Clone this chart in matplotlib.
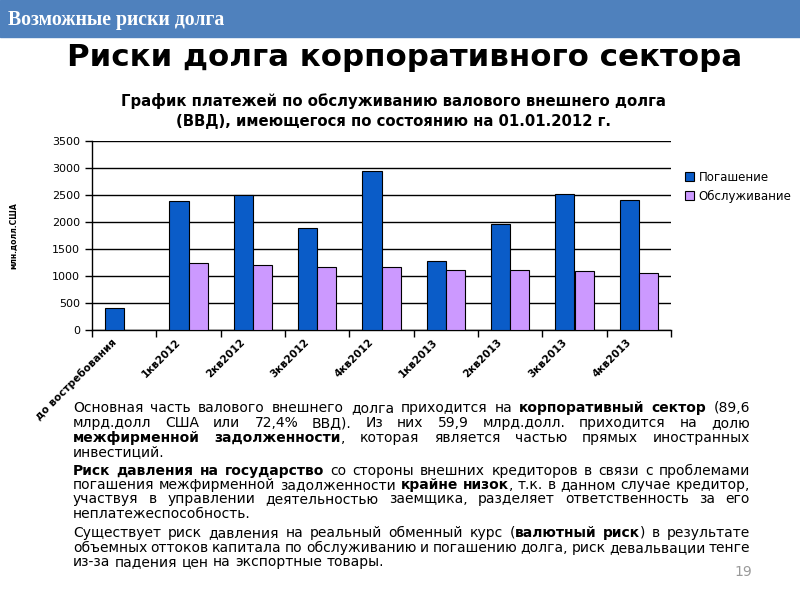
import numpy as np
import matplotlib
matplotlib.use('Agg')
from matplotlib import pyplot as plt
from matplotlib.patches import Rectangle

kvartaly = ['до востребования', '1кв2012', '2кв2012', '3кв2012', '4кв2012',
            '1кв2013', '2кв2013', '3кв2013', '4кв2013']
pogashenie = [400, 2380, 2500, 1880, 2940, 1270, 1960, 2510, 2400]
obsluzhivanie = [np.nan, 1240, 1200, 1170, 1160, 1120, 1120, 1090, 1050]

# строки текста, *...* = жирный, J = по ширине
tekst = [
    ('J', 'Основная часть валового внешнего долга приходится на *корпоративный сектор* (89,6'),
    ('J', 'млрд.долл США или 72,4% ВВД). Из них 59,9 млрд.долл. приходится на долю'),
    ('J', '*межфирменной задолженности*, которая является частью прямых иностранных'),
    ('L', 'инвестиций.'),
    ('J', '*Риск давления на государство* со стороны внешних кредиторов в связи с проблемами'),
    ('J', 'погашения межфирменной задолженности *крайне низок*, т.к. в данном случае кредитор,'),
    ('J', 'участвуя в управлении деятельностью заемщика, разделяет ответственность за его'),
    ('L', 'неплатежеспособность.'),
    ('J', 'Существует риск давления на реальный обменный курс (*валютный риск*) в результате'),
    ('J', 'объемных оттоков капитала по обслуживанию и погашению долга, риск девальвации тенге'),
    ('L', 'из-за падения цен на экспортные товары.'),
]
stroki_y = [412, 427, 442, 456, 475, 489, 503, 518, 537, 552, 566]

W, H = 800, 600
fig = plt.figure(figsize=(8, 6), dpi=100)
plt.rcParams['font.family'] = ['DejaVu Sans']

# шапка
fig.add_artist(Rectangle((0, 1 - 37 / H), 1, 37 / H, transform=fig.transFigure,
                         color='#4f81bd', zorder=0))
fig.text(8 / W, 1 - 20 / H, 'Возможные риски долга', color='white', fontsize=14.2,
         fontweight='bold', family='Liberation Serif', va='center', ha='left')
fig.text(405 / W, 1 - 57 / H, 'Риски долга корпоративного сектора', fontsize=22.2,
         fontweight='bold', ha='center', va='center')
fig.text(393 / W, 1 - 111 / H,
         'График платежей по обслуживанию валового внешнего долга\n(ВВД), имеющегося по состоянию на 01.01.2012 г.',
         fontsize=10.7, fontweight='bold', ha='center', va='center', linespacing=1.35)

ax = fig.add_axes([92 / W, 1 - 330 / H, (671 - 92) / W, (330 - 141) / H])
x = np.arange(len(kvartaly))
w = 0.3
ax.bar(x - w / 2, pogashenie, w, color='#0a5cc8', edgecolor='black', linewidth=0.8,
       label='Погашение', zorder=3)
ax.bar(x + w / 2, obsluzhivanie, w, color='#cc99ff', edgecolor='black', linewidth=0.8,
       label='Обслуживание', zorder=3)

ax.set_xlim(-0.5, len(kvartaly) - 0.5)
ax.set_ylim(0, 3500)
ax.set_yticks(range(0, 3501, 500))
ax.yaxis.grid(True, color='black', linewidth=1, zorder=0)
ax.tick_params(axis='y', labelsize=8, direction='out', length=5, width=1)
# подписи чуть левее центра категории, как в Excel
ax.set_xticks(x - 0.2)
ax.set_xticklabels(kvartaly, rotation=45, ha='right', rotation_mode='anchor',
                   fontsize=7.5, fontweight='bold')
ax.tick_params(axis='x', length=0, pad=5)
ax.set_xticks(np.arange(-0.5, len(kvartaly), 1), minor=True)
ax.tick_params(axis='x', which='minor', length=5, width=1, direction='out')
for s in ['top', 'right']:
    ax.spines[s].set_visible(False)
for s in ['left', 'bottom']:
    ax.spines[s].set_linewidth(1)
ax.set_ylabel('млн.долл.США', fontsize=5.5, fontweight='bold', labelpad=24)
ax.legend(loc='upper left', bbox_to_anchor=(1.005, 0.9), frameon=False, fontsize=8.5,
          handlelength=0.8, handleheight=0.8, handletextpad=0.4, labelspacing=0.5)

# текст с выравниванием по ширине
renderer = fig.canvas.get_renderer()
fsize = 10.0
x0, x1 = 73, 750


def width_px(s, bold):
    t = fig.text(0, 0, s, fontsize=fsize, fontweight='bold' if bold else 'normal')
    wd = t.get_window_extent(renderer).width
    t.remove()
    return wd


space = width_px('a a', False) - width_px('aa', False)

for (mode, line), yy in zip(tekst, stroki_y):
    bold = False
    words = []
    for word in line.split(' '):
        parts = []
        for i, p in enumerate(word.split('*')):
            if i > 0:
                bold = not bold
            if p:
                parts.append((p, bold))
        if parts:
            words.append(parts)
    widths = [[width_px(p, b) for p, b in wd] for wd in words]
    total = sum(sum(ws) for ws in widths)
    gap = (x1 - x0 - total) / (len(words) - 1) if mode == 'J' else space
    cx = x0
    for wd, ws in zip(words, widths):
        for (p, b), pw in zip(wd, ws):
            fig.text(cx / W, 1 - yy / H, p, fontsize=fsize,
                     fontweight='bold' if b else 'normal', va='baseline', ha='left')
            cx += pw
        cx += gap

fig.text(752 / W, 1 - 572 / H, '19', fontsize=10, color='#999999', ha='right', va='center')

fig.savefig('out.png', dpi=100)
